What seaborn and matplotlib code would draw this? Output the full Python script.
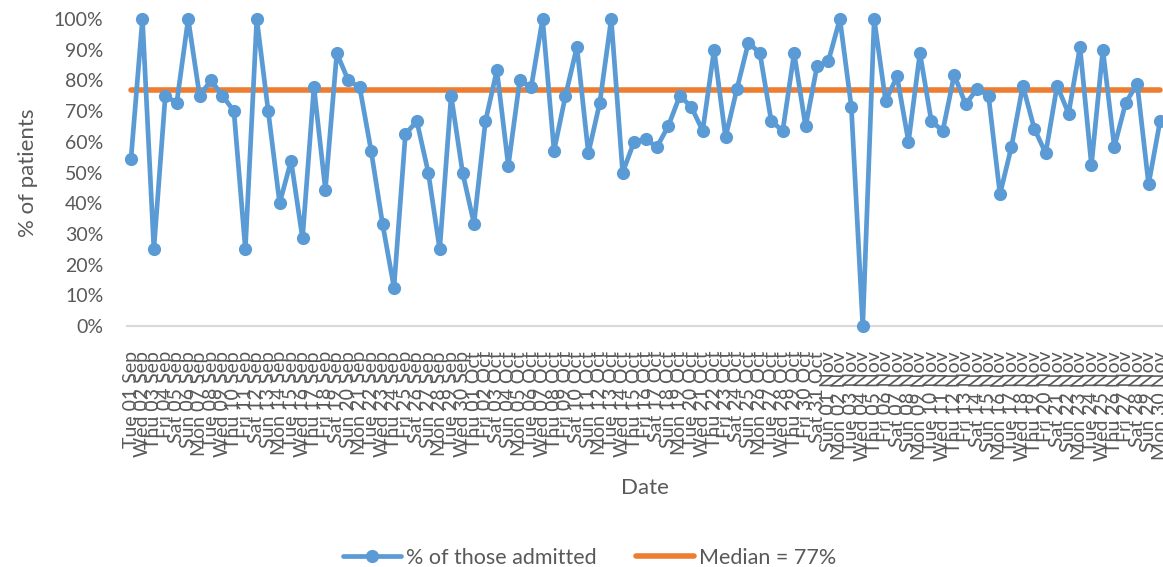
import matplotlib
matplotlib.use("Agg")
import matplotlib.pyplot as plt
import matplotlib.ticker as mticker
import seaborn as sns
import pandas as pd
import numpy as np

# ---- data ----
start_date = "2020-09-01"
end_date = "2020-11-30"
date_labels = [d.strftime("%a %d %b") for d in pd.date_range(start_date, end_date, freq="D")]

pct_admitted = [
    54.5, 100, 25, 75, 72.7, 100, 75, 80, 75, 70,
    25, 100, 70, 40, 53.8, 28.6, 77.8, 44.4, 88.9, 80,
    77.8, 57.1, 33.3, 12.5, 62.5, 66.7, 50, 25, 75, 50,
    33.3, 66.7, 83.3, 52.2, 80, 77.8, 100, 57.1, 75, 90.9,
    56.3, 72.7, 100, 50, 60, 60.9, 58.3, 65.2, 75, 71.4,
    63.6, 90, 61.5, 77.3, 92.3, 88.9, 66.7, 63.6, 88.9, 65,
    84.6, 86.4, 100, 71.4, 0, 100, 73.3, 81.3, 60, 88.9,
    66.7, 63.6, 81.8, 72.2, 77.3, 75, 42.9, 58.3, 78.3, 64.3,
    56.3, 78.3, 69.2, 90.9, 52.4, 90, 58.3, 72.7, 78.9, 46.2, 66.7,
]
median_value = 77
y_ticks = [0, 10, 20, 30, 40, 50, 60, 70, 80, 90, 100]
series_label = "% of those admitted"
median_label = "Median = 77%"

# ---- style ----
sns.set_theme(style="white")
plt.rcParams["font.family"] = ["Lato", "DejaVu Sans"]
text_color = "#595959"
blue = "#5B9BD5"
orange = "#ED7D31"

df = pd.DataFrame({
    "pos": np.arange(len(date_labels)),
    "date": date_labels,
    "value": pct_admitted,
    "median": [median_value] * len(date_labels),
})

fig = plt.figure(figsize=(11.63, 5.67), dpi=100)
ax = fig.add_axes([127 / 1163, 1 - 326 / 567, 1 - 127 / 1163, (326 - 19) / 567])

sns.lineplot(data=df, x="pos", y="median", ax=ax, color=orange, linewidth=4.0,
             label=median_label, solid_capstyle="round", clip_on=False, zorder=2)
sns.lineplot(data=df, x="pos", y="value", ax=ax, color=blue, linewidth=3.4,
             marker="o", markersize=9.5, markeredgewidth=0, markeredgecolor=blue,
             label=series_label, clip_on=False, zorder=3)

ax.set_xlim(-0.35, len(date_labels) - 1 + 0.26)
ax.set_ylim(0, 100)
ax.set_yticks(y_ticks)
ax.yaxis.set_major_formatter(mticker.FuncFormatter(lambda v, p: f"{v:.0f}%"))
ax.set_xticks(df["pos"])
ax.set_xticklabels(date_labels, rotation=90)

ax.tick_params(axis="y", length=0, pad=17, labelsize=14, labelcolor=text_color)
ax.tick_params(axis="x", length=0, pad=18, labelsize=14, labelcolor=text_color)

for s in ["top", "right", "left"]:
    ax.spines[s].set_visible(False)
ax.spines["bottom"].set_color("#D9D9D9")
ax.spines["bottom"].set_linewidth(1.5)
ax.spines["bottom"].set_zorder(1)
ax.grid(False)

ax.set_ylabel("% of patients", fontsize=16, color=text_color)
ax.yaxis.set_label_coords((28 - 127) / 1036, 0.5)
ax.yaxis.label.set_va("center")
ax.set_xlabel("Date", fontsize=16, color=text_color)
ax.xaxis.set_label_coords(0.5, (326 - 488) / 307)
ax.xaxis.label.set_va("center")

handles, labels = ax.get_legend_handles_labels()
ax.get_legend().remove()
order = [labels.index(series_label), labels.index(median_label)]
leg = fig.legend([handles[i] for i in order], [labels[i] for i in order],
                 loc="center", bbox_to_anchor=(0.507, 0.016), ncol=2, frameon=False,
                 fontsize=15.5, handlelength=2.7, handletextpad=0.25, columnspacing=1.8,
                 labelcolor=text_color)

fig.savefig("out.png", dpi=100)
